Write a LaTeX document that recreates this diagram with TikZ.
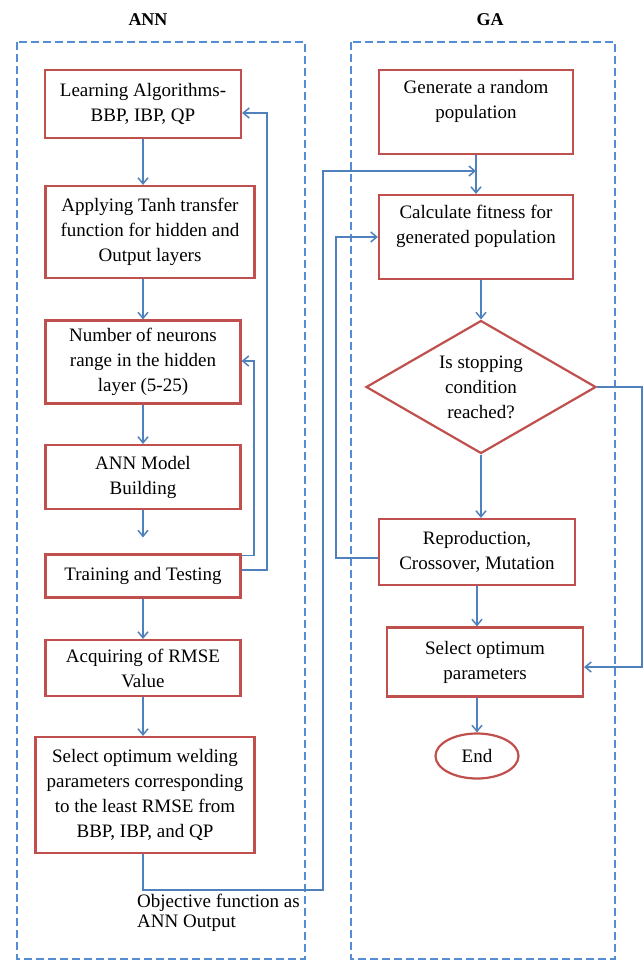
\documentclass[tikz,border=0pt]{standalone}
\usepackage{fontspec}
\setmainfont{Liberation Serif}
\usetikzlibrary{shapes.geometric,arrows.meta,calc}
\definecolor{boxred}{RGB}{192,80,77}
\definecolor{lineblue}{RGB}{79,129,189}
\definecolor{dashblue}{RGB}{84,141,212}
\begin{document}
\begin{tikzpicture}[x=1pt,y=-1pt,
 every node/.style={font=\fontsize{19}{25}\selectfont},
 stepbox/.style={draw=boxred,line width=2.2pt,rectangle,align=center,inner sep=0pt},
 conn/.style={draw=lineblue,line width=1.5pt},
 arr/.style={conn,-{Straight Barb[length=6pt,width=10pt,line width=1.5pt]}},
 frame/.style={draw=dashblue,line width=2pt,dash pattern=on 8pt off 4pt},
 title/.style={font=\fontsize{18}{22}\selectfont\bfseries}]
\useasboundingbox (0,0) rectangle (644,962);
\fill[white] (0,0) rectangle (644,962);

% titles and frames
\node[title] (tA) at (148,20) {ANN};
\node[title] (tG) at (490,20) {GA};
\draw[frame] (17,42) rectangle (305,959);
\draw[frame] (351,42) rectangle (615,959);

% ANN column
\node[stepbox,minimum width=196pt,minimum height=68pt] (B1) at (143,104) {Learning Algorithms-\\BBP, IBP, QP};
\node[stepbox,minimum width=209pt,minimum height=92pt] (B2) at (150,232) {Applying Tanh transfer\\function for hidden and\\Output layers};
\node[stepbox,minimum width=195pt,minimum height=83pt] (B3) at (143,362) {Number of neurons\\range in the hidden\\layer (5-25)};
\node[stepbox,minimum width=195pt,minimum height=64pt] (B4) at (143,477) {ANN Model\\Building};
\node[stepbox,minimum width=195pt,minimum height=43pt] (B5) at (143,576) {Training and Testing};
\node[stepbox,minimum width=195pt,minimum height=56pt] (B6) at (143,668) {Acquiring of RMSE\\Value};
\node[stepbox,minimum width=219pt,minimum height=116pt] (B7) at (145,795) {Select optimum welding\\parameters corresponding\\to the least RMSE from\\BBP, IBP, and QP};
\node[anchor=north west,inner sep=0pt,align=left,font=\fontsize{19}{20}\selectfont] (lab) at (137,894) {Objective function as\\ANN Output};

% GA column
\node[stepbox,minimum width=194pt,minimum height=84pt] (G1) at (476,112) {Generate a random\\population\\\mbox{}};
\node[stepbox,minimum width=194pt,minimum height=84pt] (G2) at (476,237) {Calculate fitness for\\generated population\\\mbox{}};
\node[draw=boxred,line width=2.2pt,diamond,aspect=1.73,inner sep=0pt,minimum width=230pt,minimum height=133pt,align=center] (D) at (481,387) {Is stopping\\condition\\reached?};
\node[stepbox,minimum width=196pt,minimum height=66pt] (G3) at (477,552) {Reproduction,\\Crossover, Mutation};
\node[stepbox,minimum width=196pt,minimum height=69pt] (G4) at (485,662) {Select optimum\\parameters};
\node[draw=boxred,line width=2.2pt,ellipse,minimum width=83pt,minimum height=45pt,inner sep=0pt] (E) at (477,756) {End};

% ANN connectors
\draw[arr] (B1.south) -- (B1.south |- B2.north);
\draw[arr] (B3.north |- B2.south) -- (B3.north);
\draw[arr] (B3.south) -- (B4.north);
\draw[arr,shorten >=16pt] (B4.south) -- (B5.north);
\draw[arr] (B5.south) -- (B6.north);
\draw[arr] (B6.south) -- (B6.south |- B7.north);
\coordinate (fa) at (254,361);
\draw[arr] ($(B5.north east)+(0,2)$) -| (fa) -- (B3.east |- fa);
\coordinate (fb) at (267,113);
\draw[arr] ($(B5.east)+(0,-6)$) -| (fb) -- (B1.east |- fb);
\coordinate (o1) at (323,890);
\coordinate (o2) at (323,171);
\draw[arr] (B6.south |- B7.south) |- (o1) -- (o2) -- (G1.south |- o2);

% GA connectors
\draw[arr] (G1.south) -- (G2.north);
\draw[arr] (D.north |- G2.south) -- (D.north);
\draw[arr] (D.south) -- (D.south |- G3.north);
\draw[arr] (G3.south) -- (G3.south |- G4.north);
\draw[arr] (E.north |- G4.south) -- (E.north);
\coordinate (r1) at (642,387);
\draw[arr] (D.east) -- (r1) |- ($(G4.east)+(0,5)$);
\coordinate (l1) at (336,237);
\draw[arr] ($(G3.west)+(0,6)$) -| (l1) -- (G2.west);
\end{tikzpicture}
\end{document}
